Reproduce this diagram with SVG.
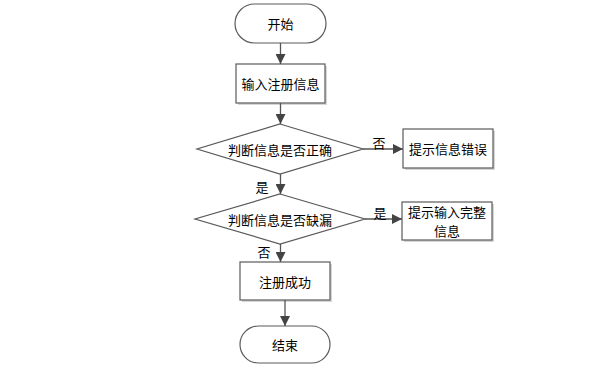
<svg xmlns="http://www.w3.org/2000/svg" width="606" height="372" viewBox="0 0 606 372">
<style>
.shape{fill:#fff;stroke:#5a5a5a;stroke-width:1.2}
.shadow{fill:#d6d6d6;stroke:none}
.t{font-family:"Noto Sans CJK SC","Liberation Sans",sans-serif;font-size:13px;fill:#000;text-anchor:middle;dominant-baseline:central}
.line{stroke:#555;stroke-width:1.3;fill:none}
</style>
<defs>
<marker id="arr" viewBox="0 0 10 10" refX="10" refY="5" markerWidth="10" markerHeight="10" markerUnits="userSpaceOnUse" orient="auto">
<path d="M0,0 L10,5 L0,10 z" fill="#444"/>
</marker>
</defs>
<g id="start">
<rect class="shape" x="235" y="4" width="91" height="39" rx="19.5"/>
<text class="t" x="280.5" y="23.5">开始</text>
</g>
<g id="input">
<rect class="shadow" x="238" y="66" width="89" height="39"/>
<rect class="shape" x="236" y="64" width="89" height="39"/>
<text class="t" x="280.5" y="83.5">输入注册信息</text>
</g>
<g id="check1">
<polygon class="shape" points="280,124 363,149 280,174 197,149"/>
<text class="t" x="280" y="149">判断信息是否正确</text>
</g>
<g id="err">
<rect class="shadow" x="405" y="131" width="90" height="39"/>
<rect class="shape" x="403" y="129" width="90" height="39"/>
<text class="t" x="448" y="148.5">提示信息错误</text>
</g>
<g id="check2">
<polygon class="shape" points="280,194 365,219 280,244 195,219"/>
<text class="t" x="280" y="219">判断信息是否缺漏</text>
</g>
<g id="complete">
<rect class="shadow" x="404" y="204" width="90" height="38"/>
<rect class="shape" x="402" y="202" width="90" height="38"/>
<text class="t" x="447" y="211.5">提示输入完整</text>
<text class="t" x="447" y="230">信息</text>
</g>
<g id="success">
<rect class="shadow" x="242" y="264" width="90" height="38"/>
<rect class="shape" x="240" y="262" width="90" height="38"/>
<text class="t" x="285" y="281">注册成功</text>
</g>
<g id="end">
<rect class="shape" x="240" y="326" width="90" height="37" rx="18.5"/>
<text class="t" x="285" y="344.5">结束</text>
</g>
<g id="connectors">
<line class="line" x1="280.5" y1="43" x2="280.5" y2="64" marker-end="url(#arr)"/>
<line class="line" x1="280.5" y1="103" x2="280.5" y2="124" marker-end="url(#arr)"/>
<line class="line" x1="363" y1="149" x2="403" y2="149" marker-end="url(#arr)"/>
<line class="line" x1="280.5" y1="174" x2="280.5" y2="194" marker-end="url(#arr)"/>
<line class="line" x1="365" y1="219" x2="402" y2="219" marker-end="url(#arr)"/>
<line class="line" x1="280.5" y1="244" x2="280.5" y2="262" marker-end="url(#arr)"/>
<line class="line" x1="285" y1="300" x2="285" y2="326" marker-end="url(#arr)"/>
<text class="t" x="379" y="142">否</text>
<text class="t" x="262" y="186">是</text>
<text class="t" x="380" y="212">是</text>
<text class="t" x="264" y="251">否</text>
</g>
</svg>
